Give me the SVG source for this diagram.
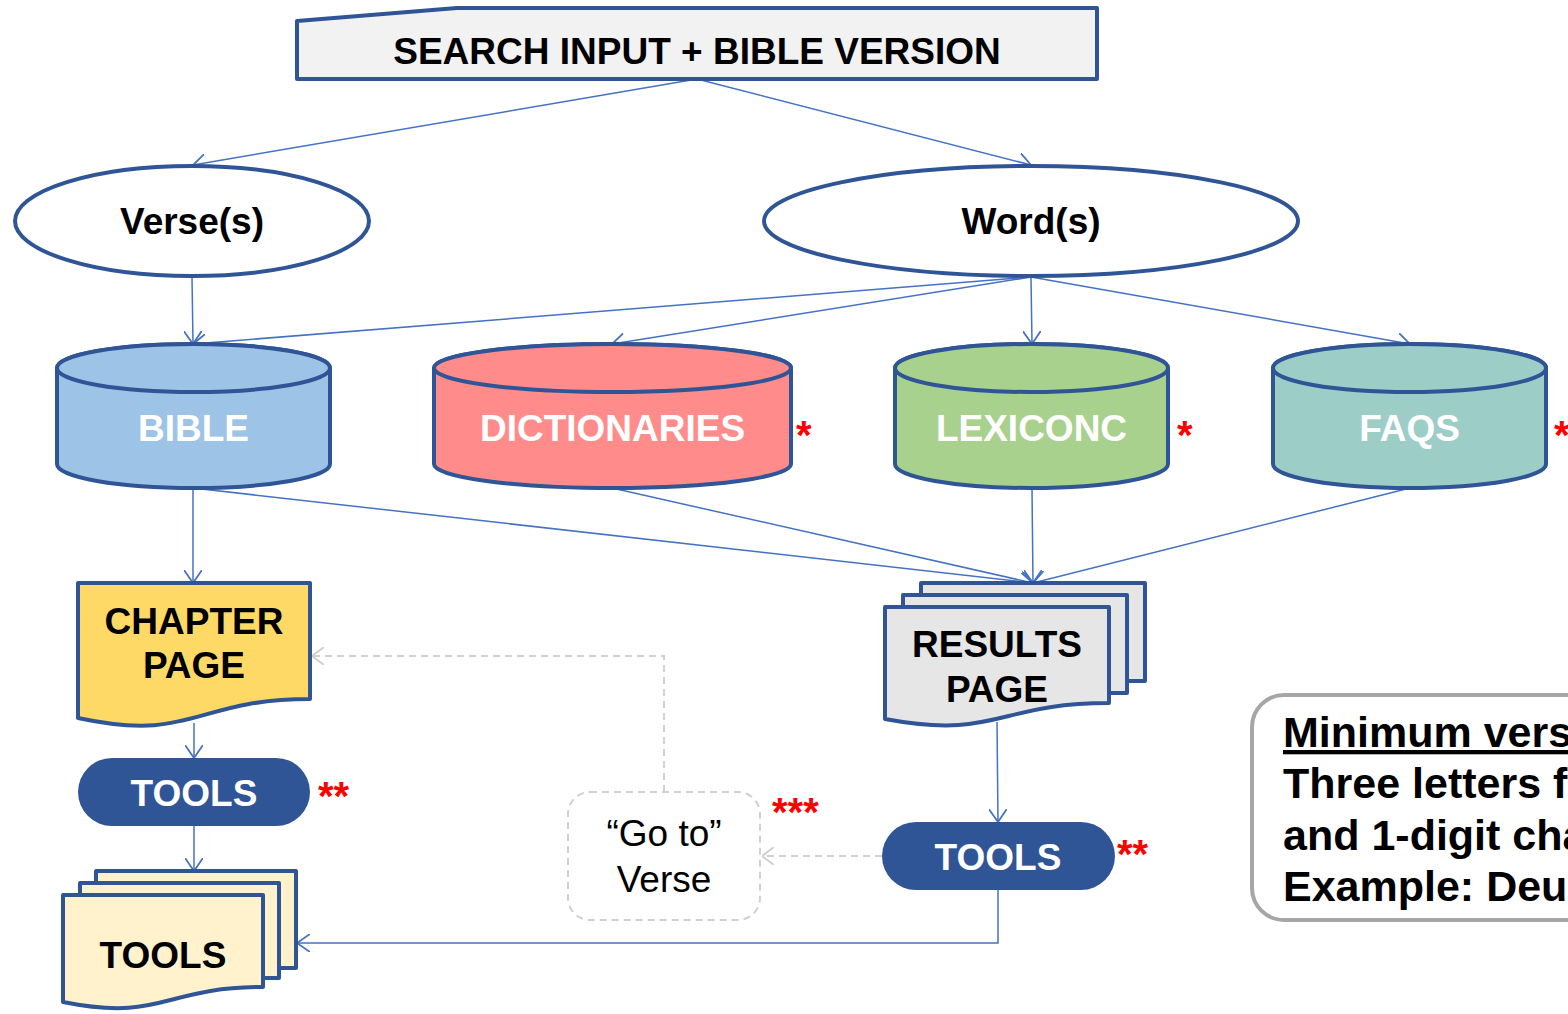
<svg xmlns="http://www.w3.org/2000/svg" width="1568" height="1014" viewBox="0 0 1568 1014">
<style>
  .shape{stroke:#2f5597;stroke-width:4;stroke-linejoin:round}
  .b{font-family:"Liberation Sans",Arial,sans-serif;font-weight:bold;font-size:37px;text-anchor:middle}
  .r{font-family:"Liberation Sans",Arial,sans-serif;font-size:37px;text-anchor:middle;fill:#000}
  .w{fill:#fff}
  .k{fill:#000}
  .star{font-family:"Liberation Sans",Arial,sans-serif;font-weight:bold;font-size:40px;fill:#ff0000}
  .note{font-family:"Liberation Sans",Arial,sans-serif;font-weight:bold;font-size:43px;fill:#000}
  .conn{fill:none;stroke:#4472c4;stroke-width:1.5}
  .dash{fill:none;stroke:#d0d0d0;stroke-width:2;stroke-dasharray:7 5}
</style>
<defs>
  <marker id="arr" viewBox="0 0 13 18" refX="13" refY="9" markerWidth="13" markerHeight="18" markerUnits="userSpaceOnUse" orient="auto">
    <path d="M0,0 L13,9 L0,18" fill="none" stroke="#4472c4" stroke-width="1.8"/>
  </marker>
  <marker id="arrg" viewBox="0 0 12 18" refX="12" refY="9" markerWidth="12" markerHeight="18" markerUnits="userSpaceOnUse" orient="auto">
    <path d="M0,0 L12,9 L0,18" fill="none" stroke="#d0d0d0" stroke-width="2"/>
  </marker>
</defs>

<g id="connectors">
  <line class="conn" x1="697" y1="79" x2="193" y2="165" marker-end="url(#arr)"/>
  <line class="conn" x1="697" y1="79" x2="1031" y2="165" marker-end="url(#arr)"/>
  <line class="conn" x1="192" y1="277" x2="193" y2="344" marker-end="url(#arr)"/>
  <line class="conn" x1="1031" y1="277" x2="193" y2="344" marker-end="url(#arr)"/>
  <line class="conn" x1="1031" y1="277" x2="612" y2="344" marker-end="url(#arr)"/>
  <line class="conn" x1="1031" y1="277" x2="1032" y2="344" marker-end="url(#arr)"/>
  <line class="conn" x1="1031" y1="277" x2="1410" y2="344" marker-end="url(#arr)"/>
  <line class="conn" x1="193" y1="488" x2="193" y2="583" marker-end="url(#arr)"/>
  <line class="conn" x1="193" y1="488" x2="1033" y2="583" marker-end="url(#arr)"/>
  <line class="conn" x1="612" y1="488" x2="1033" y2="583" marker-end="url(#arr)"/>
  <line class="conn" x1="1032" y1="488" x2="1033" y2="583" marker-end="url(#arr)"/>
  <line class="conn" x1="1410" y1="488" x2="1033" y2="583" marker-end="url(#arr)"/>
  <line class="conn" x1="194" y1="723" x2="194" y2="758" marker-end="url(#arr)"/>
  <line class="conn" x1="194" y1="826" x2="194" y2="871" marker-end="url(#arr)"/>
  <line class="conn" x1="997" y1="722" x2="998" y2="822" marker-end="url(#arr)"/>
  <polyline class="conn" points="998,890 998,943 297,943" marker-end="url(#arr)"/>
  <polyline class="dash" points="664,792 664,656 312,656" marker-end="url(#arrg)"/>
  <line class="dash" x1="882" y1="856" x2="762" y2="856" marker-end="url(#arrg)"/>
</g>

<g id="search-input">
  <polygon class="shape" points="297,21 457,8 1097,8 1097,79 297,79" fill="#f2f2f2"/>
  <text class="b k" x="697" y="64" font-size="38">SEARCH INPUT + BIBLE VERSION</text>
</g>

<g id="verses">
  <ellipse class="shape" cx="192" cy="221" rx="177" ry="55" fill="#fff"/>
  <text class="b k" x="192" y="234" font-size="38">Verse(s)</text>
</g>

<g id="words">
  <ellipse class="shape" cx="1031" cy="221" rx="267" ry="55" fill="#fff"/>
  <text class="b k" x="1031" y="234" font-size="38">Word(s)</text>
</g>

<g id="bible">
  <path class="shape" fill="#9dc3e6" d="M57,368 A136.5,24 0 0 1 330,368 V464 A136.5,24 0 0 1 57,464 Z"/>
  <ellipse class="shape" fill="#9dc3e6" cx="193.5" cy="368" rx="136.5" ry="24"/>
  <text class="b w" x="193.5" y="441">BIBLE</text>
</g>

<g id="dictionaries">
  <path class="shape" fill="#ff8b8b" d="M434,368 A178.5,24 0 0 1 791,368 V464 A178.5,24 0 0 1 434,464 Z"/>
  <ellipse class="shape" fill="#ff8b8b" cx="612.5" cy="368" rx="178.5" ry="24"/>
  <text class="b w" x="612.5" y="441">DICTIONARIES</text>
  <text class="star" x="796" y="449">*</text>
</g>

<g id="lexiconc">
  <path class="shape" fill="#a9d18e" d="M895,368 A136.5,24 0 0 1 1168,368 V464 A136.5,24 0 0 1 895,464 Z"/>
  <ellipse class="shape" fill="#a9d18e" cx="1031.5" cy="368" rx="136.5" ry="24"/>
  <text class="b w" x="1031.5" y="441">LEXICONC</text>
  <text class="star" x="1177" y="449">*</text>
</g>

<g id="faqs">
  <path class="shape" fill="#9dcdc7" d="M1273,368 A136.5,24 0 0 1 1546,368 V464 A136.5,24 0 0 1 1273,464 Z"/>
  <ellipse class="shape" fill="#9dcdc7" cx="1409.5" cy="368" rx="136.5" ry="24"/>
  <text class="b w" x="1409.5" y="441">FAQS</text>
  <text class="star" x="1554" y="449">*</text>
</g>

<g id="chapter-page">
  <path class="shape" fill="#ffd966" d="M78,583 H310 V699 C194,699 194,743 78,718 Z"/>
  <text class="b k" x="194" y="634">CHAPTER</text>
  <text class="b k" x="194" y="678">PAGE</text>
</g>

<g id="results-page">
  <rect class="shape" fill="#e6e6e6" x="921" y="583" width="224" height="98"/>
  <rect class="shape" fill="#e6e6e6" x="903" y="595" width="224" height="98"/>
  <path class="shape" fill="#e6e6e6" d="M885,607 H1109 V703 C997,703 997,740 885,719 Z"/>
  <text class="b k" x="997" y="657">RESULTS</text>
  <text class="b k" x="997" y="702">PAGE</text>
</g>

<g id="tools-left">
  <rect x="78" y="758" width="232" height="68" rx="34" fill="#2f5597"/>
  <text class="b w" x="194" y="806">TOOLS</text>
  <text class="star" x="318" y="810">**</text>
</g>

<g id="tools-right">
  <rect x="882" y="822" width="233" height="68" rx="34" fill="#2f5597"/>
  <text class="b w" x="998" y="870">TOOLS</text>
  <text class="star" x="1117" y="868">**</text>
</g>

<g id="tools-docs">
  <rect class="shape" fill="#fff2cc" x="96" y="871" width="200" height="97"/>
  <rect class="shape" fill="#fff2cc" x="80" y="883" width="199" height="95"/>
  <path class="shape" fill="#fff2cc" d="M63,895 H263 V987 C163,987 163,1022 63,1002 Z"/>
  <text class="b k" x="163" y="968">TOOLS</text>
</g>

<g id="goto-verse">
  <rect x="568" y="792" width="192" height="128" rx="22" fill="#fff" stroke="#d0d0d0" stroke-width="2" stroke-dasharray="7 5"/>
  <text class="r" x="664" y="846">“Go to”</text>
  <text class="r" x="664" y="892">Verse</text>
  <text class="star" x="772" y="826">***</text>
</g>

<g id="note">
  <rect x="1252" y="695" width="360" height="225" rx="32" fill="#fff" stroke="#a6a6a6" stroke-width="4"/>
  <text class="note" x="1283" y="747" text-decoration="underline">Minimum vers</text>
  <text class="note" x="1283" y="798">Three letters f</text>
  <text class="note" x="1283" y="850">and 1-digit cha</text>
  <text class="note" x="1283" y="901">Example: Deu</text>
</g>
</svg>
